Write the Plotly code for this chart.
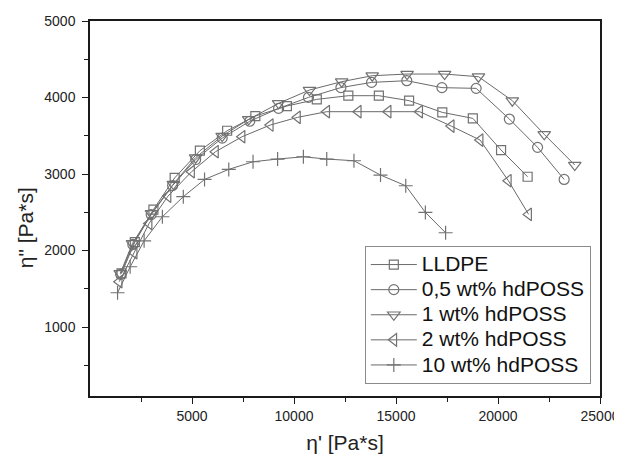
import plotly.graph_objects as go

# ---- data ----
lldpe_x = [1546, 2197, 3109, 4150, 5387, 6722, 8105, 9652, 11117, 12663, 14160, 15641, 17269, 18766, 20150, 21452]
lldpe_y = [1702, 2110, 2535, 2950, 3305, 3566, 3758, 3889, 3976, 4024, 4024, 3959, 3806, 3728, 3314, 2965]

p05_x = [1500, 2100, 3000, 4050, 5180, 6480, 7830, 9245, 10709, 12300, 13802, 15528, 17252, 18929, 20557, 21940, 23242]
p05_y = [1690, 2080, 2470, 2850, 3190, 3470, 3690, 3858, 4002, 4130, 4198, 4220, 4129, 4120, 3719, 3349, 2930]

p1_x = [1481, 2083, 3011, 4085, 5176, 6478, 7780, 9245, 10758, 12337, 13835, 15544, 17383, 19043, 20703, 22266, 23763]
p1_y = [1702, 2094, 2486, 2869, 3214, 3497, 3715, 3924, 4098, 4207, 4285, 4307, 4307, 4272, 3959, 3519, 3118]

p2_x = [1432, 2165, 2897, 3825, 4980, 6152, 7455, 8838, 10172, 11605, 13151, 14616, 16162, 17708, 19124, 20508, 21501]
p2_y = [1593, 1972, 2355, 2712, 3031, 3292, 3488, 3641, 3741, 3815, 3815, 3815, 3815, 3627, 3444, 2913, 2473]

p10_x = [1351, 1969, 2653, 3548, 4574, 5615, 6803, 7992, 9196, 10460, 11605, 12939, 14241, 15478, 16439, 17432]
p10_y = [1449, 1789, 2128, 2442, 2704, 2930, 3061, 3161, 3196, 3226, 3196, 3174, 2987, 2847, 2499, 2233]

series_names = ["LLDPE", "0,5 wt% hdPOSS", "1 wt% hdPOSS", "2 wt% hdPOSS", "10 wt% hdPOSS"]
x_tickvals = [5000, 10000, 15000, 20000, 25000]
x_minor_tickvals = [2500, 7500, 12500, 17500, 22500]
y_tickvals = [1000, 2000, 3000, 4000, 5000]
y_minor_tickvals = [500, 1500, 2500, 3500, 4500]

FONT = "Liberation Sans, Arial, sans-serif"
LINE_COL = "#6a6a6a"
MARK_COL = "#727272"

fig = go.Figure()
specs = [
    (lldpe_x, lldpe_y, "square-open", 9),
    (p05_x, p05_y, "circle-open", 10),
    (p1_x, p1_y, "triangle-down-open", 11),
    (p2_x, p2_y, "triangle-left-open", 11),
    (p10_x, p10_y, "cross-thin-open", 10),
]
for (xs, ys, sym, size), name in zip(specs, series_names):
    fig.add_trace(go.Scatter(
        x=xs, y=ys, mode="lines+markers",
        name='<span style="font-size:21px">%s</span>' % name,
        line=dict(color=LINE_COL, width=1),
        marker=dict(symbol=sym, size=size, color=MARK_COL,
                    line=dict(color=MARK_COL, width=1.2)),
    ))

axis_common = dict(
    showline=True, linecolor="#1a1a1a", linewidth=1.5, mirror=True,
    ticks="outside", ticklen=6, tickwidth=1.2, tickcolor="#1a1a1a",
    showgrid=False, zeroline=False, automargin=False,
    tickfont=dict(family=FONT, size=14, color="#222"),
)

fig.update_xaxes(
    range=[0, 25000], tickmode="array", tickvals=x_tickvals,
    ticktext=[str(v) for v in x_tickvals],
    minor=dict(tickmode="array", tickvals=x_minor_tickvals, ticks="outside",
               ticklen=4, tickwidth=1.2, tickcolor="#1a1a1a"),
    title=dict(text="η' [Pa*s]", font=dict(family=FONT, size=21, color="#222"), standoff=13),
    **axis_common,
)
fig.update_yaxes(
    range=[100, 5000], tickmode="array", tickvals=y_tickvals,
    ticktext=[str(v) for v in y_tickvals],
    minor=dict(tickmode="array", tickvals=y_minor_tickvals, ticks="outside",
               ticklen=4, tickwidth=1.2, tickcolor="#1a1a1a"),
    ticklabelstandoff=4,
    **axis_common,
)

fig.add_annotation(
    text='η" [Pa*s]', xref="paper", yref="paper", x=-0.127, y=0.448,
    xanchor="center", yanchor="middle", textangle=-90, showarrow=False,
    font=dict(family=FONT, size=21, color="#222"),
)

# the page body adds an 8px offset, so the figure is sized to fit the window
fig.update_layout(
    width=614, height=451,
    margin=dict(l=82, r=22, t=13, b=63),
    paper_bgcolor="white", plot_bgcolor="white",
    showlegend=True,
    legend=dict(
        x=0.982, y=0.032, xanchor="right", yanchor="bottom",
        bgcolor="white", bordercolor="#8a8a8a", borderwidth=1,
        font=dict(family=FONT, size=17, color="#111"),
        itemwidth=46, tracegroupgap=0,
    ),
)

fig.write_html("out.html")
